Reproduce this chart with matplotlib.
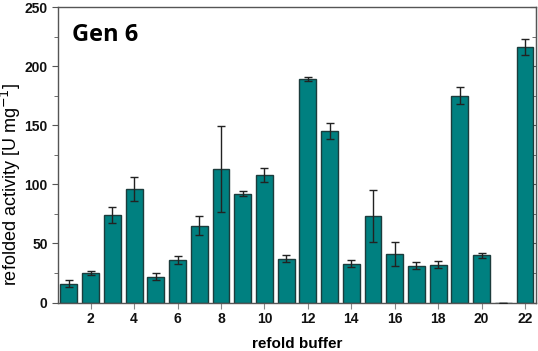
import matplotlib
matplotlib.use("Agg")
import matplotlib.pyplot as plt
from matplotlib.ticker import MultipleLocator

plt.rcParams['font.family'] = ['Liberation Sans', 'DejaVu Sans']

buffers = list(range(1, 23))
activity = [16, 25, 74, 96, 22, 36, 65, 113, 92, 108, 37, 189, 145, 33,
            73, 41, 31, 32, 175, 40, 0, 216]
errors = [3, 2, 7, 10, 3, 3, 8, 36, 2, 6, 3, 2, 7, 3,
          22, 10, 3, 3, 7, 2, 0, 7]

fig = plt.figure(figsize=(5.38, 3.51), dpi=100)
ax = fig.add_axes([0.108, 0.138, 0.888, 0.842])

ax.bar(buffers, activity, width=0.78, color='#008080', edgecolor='#1c3c3c',
       linewidth=1.0, zorder=2)
ax.errorbar(buffers, activity, yerr=errors, fmt='none', ecolor='#222222',
            elinewidth=1.0, capsize=3, capthick=1.0, zorder=3)

ax.set_xlim(0.5, 22.5)
ax.set_ylim(0, 250)
ax.set_xticks(range(2, 23, 2))
ax.yaxis.set_major_locator(MultipleLocator(50))
ax.yaxis.set_minor_locator(MultipleLocator(25))

for s in ax.spines.values():
    s.set_color('#555555')
    s.set_linewidth(1.0)

ax.tick_params(axis='x', which='major', direction='out', length=4, color='#888888',
               labelsize=10, pad=3)
ax.tick_params(axis='y', which='both', direction='out', left=True, right=False,
               color='#555555', labelsize=10)
ax.tick_params(axis='y', which='major', length=4)
ax.tick_params(axis='y', which='minor', length=3)
for lab in ax.get_xticklabels() + ax.get_yticklabels():
    lab.set_fontweight('bold')
    lab.set_color('#111111')

sec = ax.secondary_yaxis('right')
sec.yaxis.set_major_locator(MultipleLocator(50))
sec.yaxis.set_minor_locator(MultipleLocator(25))
sec.tick_params(axis='y', which='both', direction='in', labelright=False,
                color='#555555')
sec.tick_params(axis='y', which='major', length=4)
sec.tick_params(axis='y', which='minor', length=3)
sec.spines['right'].set_color('#555555')

ax.set_xlabel('refold buffer', fontsize=11, fontweight='bold', labelpad=8)
ax.set_ylabel('refolded activity [U mg$^{-1}$]', fontsize=13,
              va='center', ha='center')
ax.yaxis.set_label_coords(-0.098, 0.40)

ax.text(0.03, 0.905, 'Gen 6', transform=ax.transAxes, fontsize=17,
        fontweight='bold', va='center', ha='left',
        family=['Open Sans', 'DejaVu Sans'])

fig.savefig('out.png', dpi=100)
